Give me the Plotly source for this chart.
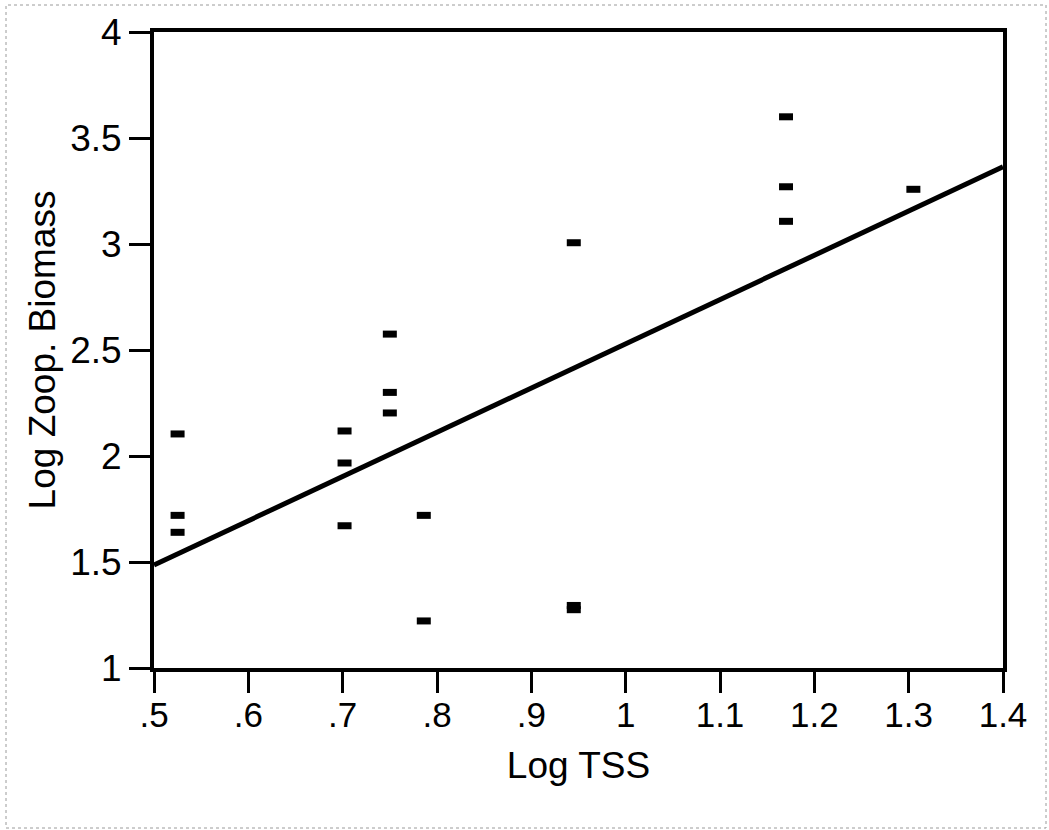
import plotly.graph_objects as go

# Data
log_tss = [0.525, 0.525, 0.525,
           0.702, 0.702, 0.702,
           0.750, 0.750, 0.750,
           0.786, 0.786,
           0.945, 0.945, 0.945,
           1.170, 1.170, 1.170,
           1.305]
log_zoop = [2.104, 1.720, 1.640,
            2.118, 1.967, 1.671,
            2.575, 2.300, 2.203,
            1.720, 1.222,
            3.006, 1.295, 1.275,
            3.600, 3.270, 3.107,
            3.258]

fit_x = [0.5, 1.4]
fit_y = [1.486, 3.364]

x_tickvals = [0.5, 0.6, 0.7, 0.8, 0.9, 1.0, 1.1, 1.2, 1.3, 1.4]
x_ticktext = [".5", ".6", ".7", ".8", ".9", "1", "1.1", "1.2", "1.3", "1.4"]
y_tickvals = [1, 1.5, 2, 2.5, 3, 3.5, 4]
y_ticktext = ["1", "1.5", "2", "2.5", "3", "3.5", "4"]

FONT = "Liberation Sans, Arial, Helvetica, sans-serif"

fig = go.Figure()
fig.add_trace(go.Scatter(
    x=fit_x, y=fit_y, mode="lines",
    line=dict(color="black", width=5),
    showlegend=False, hoverinfo="skip"))
fig.add_trace(go.Scatter(
    x=log_tss, y=log_zoop, mode="markers",
    marker=dict(symbol="line-ew", size=10, color="black",
                line=dict(color="black", width=7)),
    showlegend=False))

W, H = 1049, 830
L, R, T, B = 154, 46, 32, 162
pw, ph = W - L - R, H - T - B

def px_x(p):
    return (p - L) / pw

def px_y(p):
    return (H - B - p) / ph

# faint dotted outer border of the scanned figure
fig.add_shape(type="rect", xref="paper", yref="paper",
              x0=px_x(6), x1=px_x(1046), y0=px_y(828), y1=px_y(5),
              line=dict(color="#9a9a9a", width=1, dash="dot"),
              layer="below")

axis_common = dict(
    showgrid=False, zeroline=False, showline=True, linecolor="black",
    linewidth=4, mirror=True, ticks="outside", ticklen=21, tickwidth=3,
    tickcolor="black", color="black",
)

fig.update_xaxes(
    range=[0.5, 1.4], tickvals=x_tickvals, ticktext=x_ticktext,
    tickfont=dict(family=FONT, size=35, color="black"),
    ticklabelstandoff=-8,
    title=dict(text="Log TSS", font=dict(family=FONT, size=37, color="black"),
               standoff=20),
    **axis_common)
fig.update_yaxes(
    range=[1, 4], tickvals=y_tickvals, ticktext=y_ticktext,
    tickfont=dict(family=FONT, size=37, color="black"),
    title=dict(text="Log Zoop. Biomass", font=dict(family=FONT, size=37, color="black"),
               standoff=4),
    **axis_common)

fig.update_layout(
    width=W, height=H,
    margin=dict(l=L, r=R, t=T, b=B),
    paper_bgcolor="white", plot_bgcolor="white",
    font=dict(family=FONT, color="black"),
)

fig.write_html("out.html")
